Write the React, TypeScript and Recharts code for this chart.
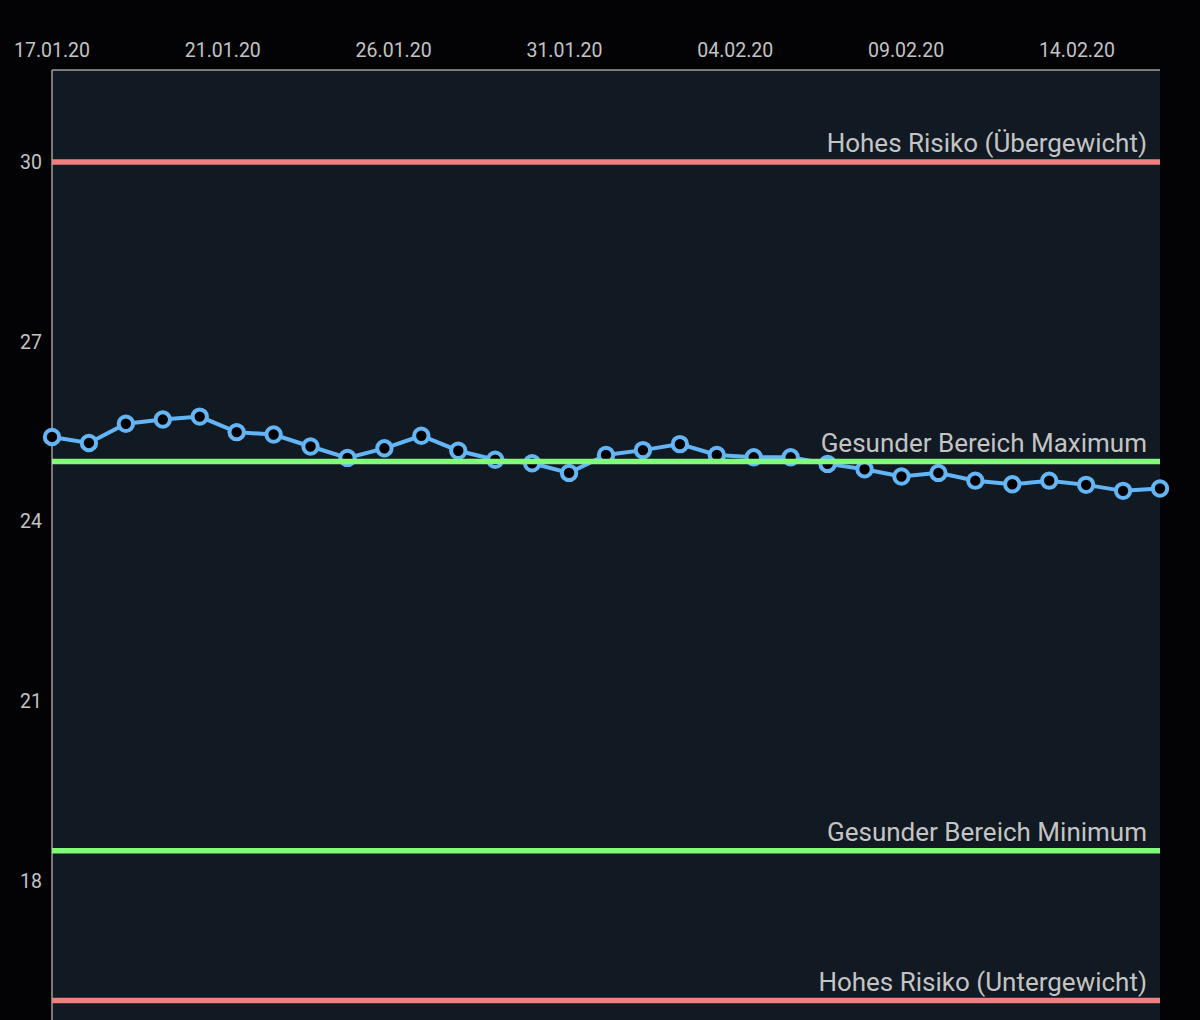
import { LineChart, Line, XAxis, YAxis, CartesianGrid, ReferenceLine } from "recharts";

// one reading per day, 17.01.20 .. 16.02.20
const bmiValues = [
  25.41, 25.31, 25.63, 25.7, 25.75, 25.49, 25.45, 25.25, 25.06, 25.22, 25.43, 25.18, 25.03,
  24.97, 24.81, 25.11, 25.19, 25.29, 25.11, 25.07, 25.07, 24.96, 24.87, 24.75, 24.81, 24.68,
  24.62, 24.68, 24.61, 24.51, 24.55,
];

const xTickPositions = [0, 4.625, 9.25, 13.875, 18.5, 23.125, 27.75];
const xTickLabels = ["17.01.20", "21.01.20", "26.01.20", "31.01.20", "04.02.20", "09.02.20", "14.02.20"];
const yTicks = [18, 21, 24, 27, 30];

const limits = [
  { value: 30, label: "Hohes Risiko (Übergewicht)", kind: "risk" },
  { value: 25, label: "Gesunder Bereich Maximum", kind: "healthy" },
  { value: 18.5, label: "Gesunder Bereich Minimum", kind: "healthy" },
  { value: 16, label: "Hohes Risiko (Untergewicht)", kind: "risk" },
];

const colors = {
  page: "#030305",
  plot: "#111922",
  axis: "#9e9e9e",
  text: "#c4c4c4",
  line: "#64b5f6",
  risk: "#f08080",
  healthy: "#80fc78",
};

const data = bmiValues.map((bmi, i) => ({ day: i, bmi }));

function XTick({ x, y, payload }: any) {
  const idx = xTickPositions.indexOf(payload.value);
  return (
    <text x={x} y={y} textAnchor="middle" fill={colors.text} fontSize={19.5} fontFamily="Roboto">
      {xTickLabels[idx] ?? ""}
    </text>
  );
}

function YTick({ x, y, payload }: any) {
  return (
    <text x={x} y={y + 7} textAnchor="end" fill={colors.text} fontSize={19.5} fontFamily="Roboto">
      {payload.value}
    </text>
  );
}

function LimitLabel({ viewBox, text }: any) {
  if (!viewBox) return null;
  return (
    <text
      x={viewBox.x + viewBox.width - 13}
      y={viewBox.y - 10}
      textAnchor="end"
      fill={colors.text}
      fontSize={26}
      fontFamily="Roboto"
    >
      {text}
    </text>
  );
}

export default function App() {
  return (
    <div
      style={{
        position: "absolute",
        top: 0,
        left: 0,
        width: 1200,
        height: 1020,
        background: colors.page,
        overflow: "hidden",
      }}
    >
      <LineChart width={1200} height={1020} data={data} margin={{ top: 0, right: 40, left: 0, bottom: 0 }}>
        <CartesianGrid fill={colors.plot} horizontal={false} vertical={false} />
        <XAxis
          dataKey="day"
          type="number"
          orientation="top"
          domain={[0, 30]}
          ticks={xTickPositions}
          interval={0}
          height={70}
          tickSize={0}
          tickMargin={13}
          tickLine={false}
          axisLine={{ stroke: colors.axis, strokeWidth: 1.5 }}
          tick={<XTick />}
        />
        <YAxis
          type="number"
          domain={[15.676, 31.536]}
          allowDataOverflow
          ticks={yTicks}
          interval={0}
          width={52}
          tickSize={0}
          tickMargin={10}
          tickLine={false}
          axisLine={{ stroke: colors.axis, strokeWidth: 1.5 }}
          tick={<YTick />}
        />
        <Line
          type="linear"
          dataKey="bmi"
          stroke={colors.line}
          strokeWidth={4}
          dot={{ r: 7.2, fill: "#000", stroke: colors.line, strokeWidth: 4 }}
          activeDot={false}
          isAnimationActive={false}
        />
        {limits.map((l) => (
          <ReferenceLine
            key={l.label}
            y={l.value}
            stroke={l.kind === "risk" ? colors.risk : colors.healthy}
            strokeWidth={5.5}
            zIndex={600}
            label={<LimitLabel text={l.label} />}
          />
        ))}
      </LineChart>
    </div>
  );
}
